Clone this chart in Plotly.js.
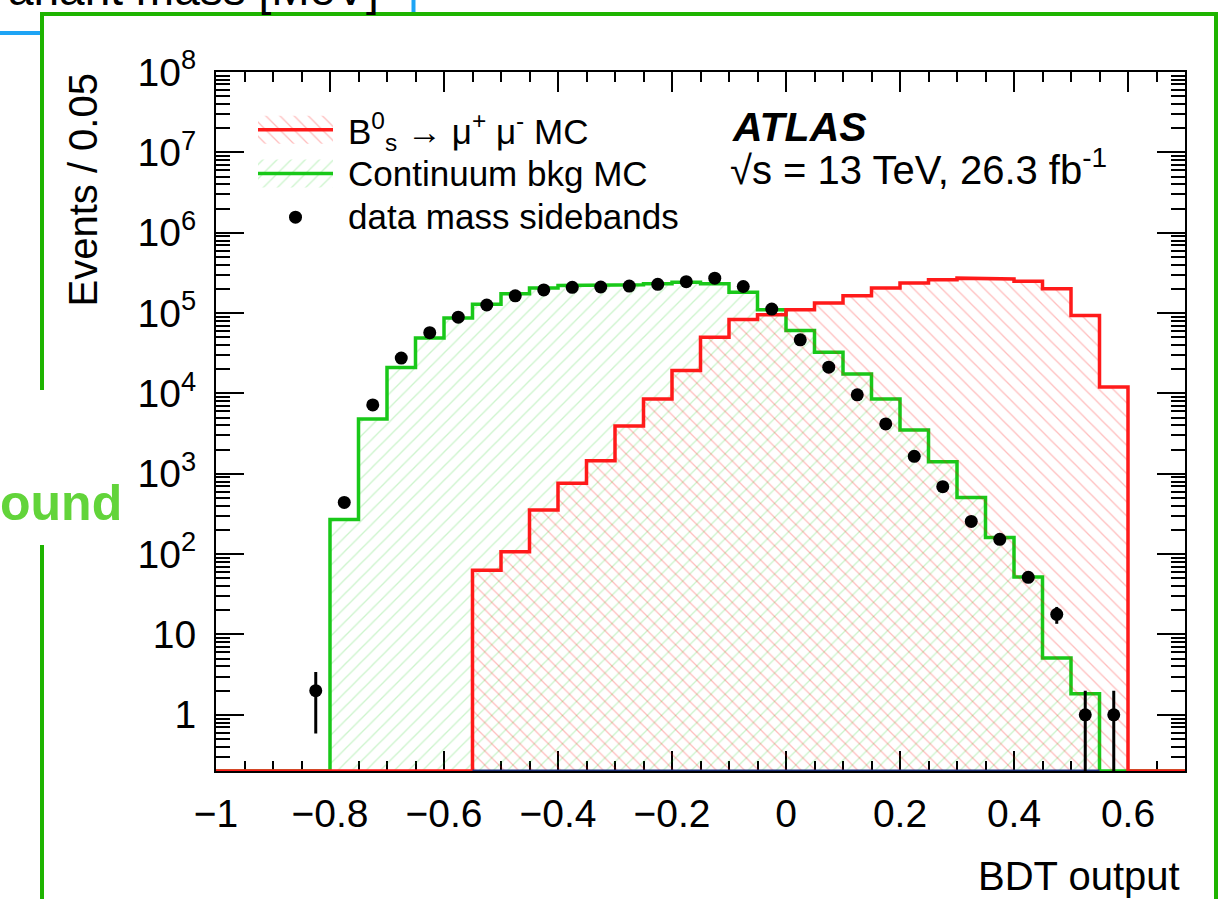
<!DOCTYPE html>
<html><head><meta charset="utf-8">
<script src="https://cdn.plot.ly/plotly-3.0.1.min.js"></script>
<style>html,body{margin:0;padding:0;background:#fff;overflow:hidden}</style>
</head><body><div id="chart" style="width:1229px;height:899px"></div>
<script>
// ---- data (BDT output, bins of 0.05) ----
const binEdges = [-1.00,-0.95,-0.90,-0.85,-0.80,-0.75,-0.70,-0.65,-0.60,-0.55,-0.50,-0.45,-0.40,-0.35,-0.30,-0.25,-0.20,-0.15,-0.10,-0.05,0.00,0.05,0.10,0.15,0.20,0.25,0.30,0.35,0.40,0.45,0.50,0.55,0.60,0.65,0.70];
const signalMC = [0,0,0,0,0,0,0,0,0,63,107,353,760,1450,3940,8500,19300,50000,83000,95000,110000,133000,164000,205000,237000,260000,272000,266000,248000,200000,93000,12000,0,0];
const continuumMC = [0,0,0,0,270,4800,21000,49000,87000,129000,174000,205000,221000,221000,225000,232000,241000,232000,182000,110000,60500,32500,17500,8500,3500,1410,508,161,52,5.1,1.83,0,0,0];
const dataX = [-0.825,-0.775,-0.725,-0.675,-0.625,-0.575,-0.525,-0.475,-0.425,-0.375,-0.325,-0.275,-0.225,-0.175,-0.125,-0.075,-0.025,0.025,0.075,0.125,0.175,0.225,0.275,0.325,0.375,0.425,0.475,0.525,0.575];
const dataY = [2,440,7200,27500,57000,89000,126000,164000,194000,209000,211000,217000,228000,246000,272000,214000,112000,46500,21200,9600,4170,1650,690,255,153,51.5,17.8,1,1];
const xTickVals = [-1,-0.8,-0.6,-0.4,-0.2,0,0.2,0.4,0.6];
const xTickText = ['\u22121','\u22120.8','\u22120.6','\u22120.4','\u22120.2','0','0.2','0.4','0.6'];
const yTickVals = [1,10,1e2,1e3,1e4,1e5,1e6,1e7,1e8];
const yTickText = ['1','10','10<sup>2</sup>','10<sup>3</sup>','10<sup>4</sup>','10<sup>5</sup>','10<sup>6</sup>','10<sup>7</sup>','10<sup>8</sup>'];
const legendLabels = ['B<sup>0</sup><sub>s</sub> \u2192 \u03bc<sup>+</sup> \u03bc<sup>-</sup> MC','Continuum bkg MC','data mass sidebands'];

// ---- style ----
const FONT = 'Liberation Sans, Arial, Helvetica, sans-serif';
const Y_MIN = 0.2, Y_MAX = 1e8;
const W = 1229, H = 899, L = 216, R = 1185, T = 72, B = 771;
const px = p => (p - L) / (R - L);
const py = p => (B - p) / (B - T);
const RED = '#ff1a1a', GREEN = '#19c819', NAVY = '#1c2f7a';
const LEG_ROWS = [130, 173, 216];

function stepPath(edges, vals, floor) {
  const x = [edges[0]], y = [floor];
  vals.forEach((v, i) => { const h = v > 0 ? v : floor; x.push(edges[i], edges[i + 1]); y.push(h, h); });
  x.push(edges[edges.length - 1]); y.push(floor);
  return {x, y};
}
const sig = stepPath(binEdges, signalMC, Y_MIN);
const bkg = stepPath(binEdges, continuumMC, Y_MIN);
const both = signalMC.map((v, i) => v > 0 && continuumMC[i] > 0 ? i : -1).filter(i => i >= 0);
const baseX = [binEdges[both[0]], binEdges[both[both.length - 1] + 1]];

const minorY = [];
for (let k = -1; k <= 7; k++) for (let m = 2; m <= 9; m++) { const v = m * Math.pow(10, k); if (v >= Y_MIN && v <= Y_MAX) minorY.push(v); }

const redHatch = {shape: '\\', fgcolor: 'rgba(255,0,0,0.26)', bgcolor: 'rgba(0,0,0,0)', size: 10, solidity: 0.13};
const greenHatch = {shape: '/', fgcolor: 'rgba(0,200,0,0.2)', bgcolor: 'rgba(0,0,0,0)', size: 10, solidity: 0.13};

const traces = [
  {x: bkg.x, y: bkg.y, type: 'scatter', mode: 'lines', fill: 'toself', fillcolor: 'rgba(0,0,0,0)',
   fillpattern: greenHatch, line: {color: GREEN, width: 3.5}, hoverinfo: 'skip', showlegend: false},
  {x: sig.x, y: sig.y, type: 'scatter', mode: 'lines', fill: 'toself', fillcolor: 'rgba(0,0,0,0)',
   fillpattern: redHatch, line: {color: RED, width: 3.5}, hoverinfo: 'skip', showlegend: false},
  {x: baseX, y: [Y_MIN, Y_MIN], type: 'scatter', mode: 'lines', line: {color: NAVY, width: 3}, hoverinfo: 'skip', showlegend: false},
  {x: dataX, y: dataY, type: 'scatter', mode: 'markers', marker: {color: '#000', size: 13},
   error_y: {type: 'data', array: dataY.map(v => Math.sqrt(v)), visible: true, thickness: 3, width: 0, color: '#000'},
   showlegend: false},
  // legend swatches (aux axes x2/y2, rows at 2.5 / 1.5 / 0.5)
  {x: [0, 1, 1, 0], y: [2.18, 2.18, 2.82, 2.82], xaxis: 'x2', yaxis: 'y2', type: 'scatter', mode: 'lines', fill: 'toself',
   fillcolor: 'rgba(0,0,0,0)', fillpattern: redHatch, line: {width: 0}, showlegend: false, hoverinfo: 'skip'},
  {x: [0, 1], y: [2.5, 2.5], xaxis: 'x2', yaxis: 'y2', type: 'scatter', mode: 'lines', line: {color: RED, width: 3.5}, showlegend: false, hoverinfo: 'skip'},
  {x: [0, 1, 1, 0], y: [1.18, 1.18, 1.82, 1.82], xaxis: 'x2', yaxis: 'y2', type: 'scatter', mode: 'lines', fill: 'toself',
   fillcolor: 'rgba(0,0,0,0)', fillpattern: greenHatch, line: {width: 0}, showlegend: false, hoverinfo: 'skip'},
  {x: [0, 1], y: [1.5, 1.5], xaxis: 'x2', yaxis: 'y2', type: 'scatter', mode: 'lines', line: {color: GREEN, width: 3.5}, showlegend: false, hoverinfo: 'skip'},
  {x: [0.5], y: [0.5], xaxis: 'x2', yaxis: 'y2', type: 'scatter', mode: 'markers', marker: {color: '#000', size: 13}, showlegend: false, hoverinfo: 'skip'}
];

const txt = (size, color) => ({family: FONT, size: size, color: color || '#000'});
const annotations = [
  {text: 'Events / 0.05', xref: 'paper', yref: 'paper', x: px(82), y: 1, xanchor: 'center', yanchor: 'top', textangle: -90, showarrow: false, font: txt(40)},
  {text: 'BDT output', xref: 'paper', yref: 'paper', x: px(1182), y: py(876), xanchor: 'right', yanchor: 'middle', showarrow: false, font: txt(40)},
  {text: 'ATLAS', xref: 'paper', yref: 'paper', x: px(730), y: py(127), xanchor: 'left', yanchor: 'middle', showarrow: false,
   font: {family: FONT, size: 41, color: '#000', weight: 'bold', style: 'italic'}},
  {text: '\u221as = 13 TeV, 26.3 fb<sup>-1</sup>', xref: 'paper', yref: 'paper', x: px(728), y: py(167), xanchor: 'left', yanchor: 'middle', showarrow: false, font: txt(40)},
  {text: 'ariant mass [MeV]', xref: 'paper', yref: 'paper', x: px(381), y: py(17), xanchor: 'right', yanchor: 'bottom', showarrow: false, font: txt(46)},
  {text: '<b>ound</b>', xref: 'paper', yref: 'paper', x: px(124), y: py(503), xanchor: 'right', yanchor: 'middle', showarrow: false, font: txt(50, '#62d43a')}
];
legendLabels.forEach((t, i) => annotations.push({text: t, xref: 'paper', yref: 'paper', x: px(346), y: py(LEG_ROWS[i] + (i === 0 ? 2 : 0)), xanchor: 'left', yanchor: 'middle', showarrow: false, font: txt(35)}));

const BORDER = '#1eb400', BLUE = '#1ea4f5';
const seg = (x0, y0, x1, y1, color, w) => ({type: 'line', xref: 'paper', yref: 'paper', x0: px(x0), y0: py(y0), x1: px(x1), y1: py(y1), line: {color: color, width: w}, layer: 'above'});
const shapes = [
  seg(42, 14, 1216, 14, BORDER, 4),
  seg(1216, 12, 1216, 899, BORDER, 4),
  seg(42, 12, 42, 390, BORDER, 4),
  seg(42, 545, 42, 899, BORDER, 4),
  seg(0, 33, 40, 33, BLUE, 4),
  seg(413.5, 0, 413.5, 12, BLUE, 4)
];

const layout = {
  width: W, height: H,
  margin: {l: L, r: W - R, t: T, b: H - B, pad: 0},
  paper_bgcolor: '#fff', plot_bgcolor: 'rgba(0,0,0,0)',
  showlegend: false,
  font: {family: FONT, color: '#000'},
  xaxis: {range: [-1, 0.7], tickmode: 'array', tickvals: xTickVals, ticktext: xTickText,
    ticks: 'inside', ticklen: 20, tickwidth: 2, tickcolor: '#000',
    minor: {tickmode: 'linear', tick0: -1, dtick: 0.05, ticks: 'inside', ticklen: 10, tickwidth: 2, tickcolor: '#000', showgrid: false},
    showline: true, linewidth: 2, linecolor: '#000', mirror: 'allticks', showgrid: false, zeroline: false,
    tickfont: txt(39), ticklabelstandoff: 7, layer: 'below traces', fixedrange: true},
  yaxis: {type: 'log', range: [Math.log10(Y_MIN), Math.log10(Y_MAX)], tickmode: 'array', tickvals: yTickVals, ticktext: yTickText,
    ticks: 'inside', ticklen: 28, tickwidth: 2, tickcolor: '#000',
    minor: {tickmode: 'array', tickvals: minorY, ticks: 'inside', ticklen: 14, tickwidth: 2, tickcolor: '#000', showgrid: false},
    showline: true, linewidth: 2, linecolor: '#000', mirror: 'allticks', showgrid: false, zeroline: false,
    tickfont: txt(39), ticklabelstandoff: 10, fixedrange: true},
  xaxis2: {domain: [px(258), px(333)], range: [0, 1], visible: false, anchor: 'y2', fixedrange: true},
  yaxis2: {domain: [py(239), py(108)], range: [0, 3], visible: false, anchor: 'x2', fixedrange: true},
  annotations: annotations,
  shapes: shapes
};

Plotly.newPlot('chart', traces, layout, {displayModeBar: false, staticPlot: true});
</script>
</body></html>
